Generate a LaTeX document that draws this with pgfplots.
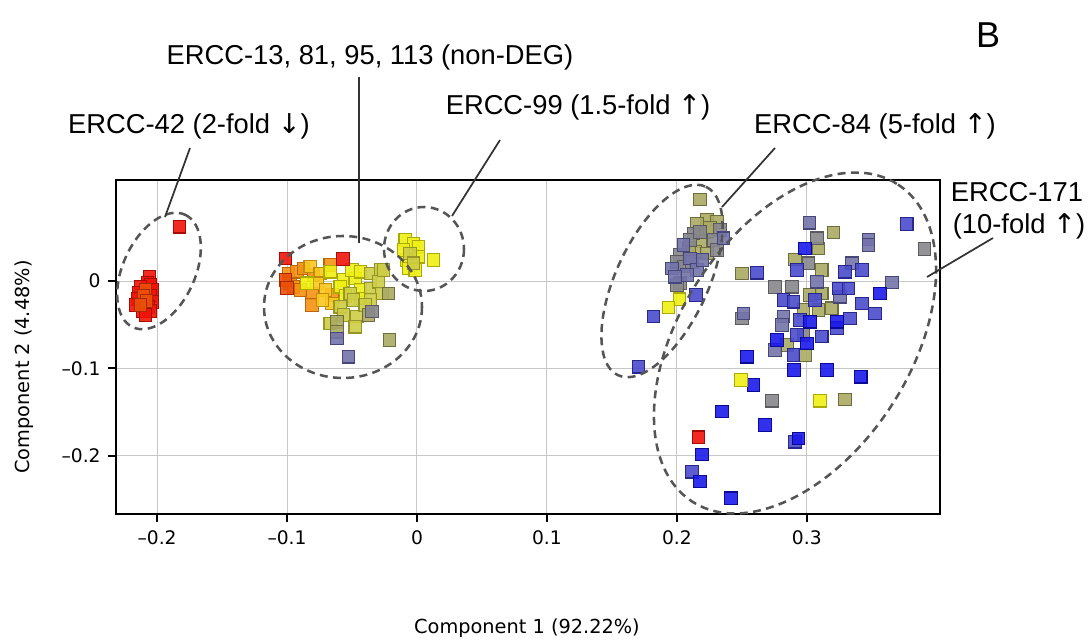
\documentclass[border=0pt]{standalone}
\usepackage{pgfplots}
\pgfplotsset{compat=1.18}
\usepackage{fontspec}
\setmainfont{DejaVu Sans}
\newfontfamily\annfont{Liberation Sans}
\newfontfamily\arrfont{DejaVu Sans}

\definecolor{cR}{RGB}{240,20,10}   \definecolor{bR}{RGB}{170,10,0}
\definecolor{cOR}{RGB}{235,80,10}  \definecolor{bOR}{RGB}{170,40,0}
\definecolor{cO}{RGB}{245,145,20}  \definecolor{bO}{RGB}{190,100,10}
\definecolor{cLO}{RGB}{250,200,30} \definecolor{bLO}{RGB}{190,140,10}
\definecolor{cY}{RGB}{240,240,20}  \definecolor{bY}{RGB}{170,170,0}
\definecolor{cYO}{RGB}{205,205,70} \definecolor{bYO}{RGB}{150,150,40}
\definecolor{cOL}{RGB}{170,170,100}\definecolor{bOL}{RGB}{110,110,60}
\definecolor{cG}{RGB}{135,135,140} \definecolor{bG}{RGB}{90,90,95}
\definecolor{cS}{RGB}{115,115,170} \definecolor{bS}{RGB}{70,70,120}
\definecolor{cBS}{RGB}{75,75,205}  \definecolor{bBS}{RGB}{40,40,140}
\definecolor{cB}{RGB}{25,25,235}   \definecolor{bB}{RGB}{10,10,150}
\definecolor{ell}{RGB}{85,85,85}

\pgfplotsset{sq/.style={only marks, mark=square*, mark size=4.7pt,
  mark options={draw=b#1, fill=c#1, line width=0.8pt, fill opacity=0.9}}}

\begin{document}
\begin{tikzpicture}
\path[use as bounding box] (0,0) rectangle (817.5pt,480pt);
\begin{axis}[
  at={(87pt,94.5pt)}, anchor=south west,
  scale only axis, width=618pt, height=250.5pt,
  xmin=-0.2316, xmax=0.4025, ymin=-0.2666, ymax=0.1156,
  xtick={-0.2,-0.1,0,0.1,0.2,0.3}, ytick={-0.2,-0.1,0},
  xticklabels={–0.2,–0.1,0,0.1,0.2,0.3}, yticklabels={–0.2,–0.1,0},
  tick align=outside, major tick length=6pt,
  tick style={black, line width=1.5pt},
  xtick pos=bottom, ytick pos=left,
  grid=major, major grid style={color=black!22, line width=0.7pt},
  axis line style={line width=2pt},
  tick label style={font=\fontsize{14}{16}\selectfont},
  xticklabel style={yshift=-3pt},
  yticklabel style={xshift=-2pt},
  clip=false,
]
% ERCC-42 cluster
\addplot[sq=R] table {
-0.1828 0.0621
-0.2059 0.0046
-0.2075 -0.0023
-0.2052 -0.0046
-0.2128 -0.0069
-0.2036 -0.0103
-0.2144 -0.0137
-0.2052 -0.0172
-0.2151 -0.0206
-0.2036 -0.0240
-0.2167 -0.0275
-0.2067 -0.0297
-0.2113 -0.0343
-0.2052 -0.0343
-0.2090 -0.0389
};
\addplot[sq=OR] table {
-0.2090 -0.0103
-0.2105 -0.0172
-0.2082 -0.0229
-0.2128 -0.0275
};
% non-DEG cluster
\addplot[sq=O] table {
-0.0988 0.0088
-0.0975 -0.0026
-0.0923 0.0106
-0.0949 -0.0065
-0.0872 0.0145
-0.0795 0.0069
-0.0808 -0.0141
-0.0808 -0.0275
-0.0667 0.0183
-0.0654 -0.0160
-0.0897 -0.0103
};
\addplot[sq=OR] table {
-0.1013 0.0011
-0.1000 -0.0080
};
\addplot[sq=LO] table {
-0.0821 0.0164
-0.0654 -0.0255
-0.0744 0.0088
-0.0769 -0.0026
-0.0705 -0.0103
-0.0728 -0.0217
};
\addplot[sq=Y] table {
-0.0846 -0.0026
-0.0667 0.0106
-0.0565 0.0011
-0.0475 0.0031
-0.0500 0.0126
-0.0436 0.0106
-0.0590 -0.0065
-0.0436 -0.0103
-0.0436 -0.0198
-0.0551 -0.0172
};
\addplot[sq=YO] table {
-0.0359 0.0088
-0.0282 0.0126
-0.0513 -0.0141
-0.0359 -0.0084
-0.0295 -0.0008
-0.0269 -0.0141
-0.0590 -0.0294
-0.0488 -0.0217
-0.0359 -0.0217
-0.0462 -0.0408
-0.0565 -0.0389
-0.0667 -0.0484
-0.0475 -0.0523
-0.0398 -0.0275
-0.0256 0.0126
};
\addplot[sq=OL] table {
-0.0615 -0.0466
-0.0218 -0.0141
-0.0372 -0.0389
-0.0615 -0.0580
-0.0211 -0.0675
};
\addplot[sq=G] table {
-0.0346 -0.0351
};
\addplot[sq=S] table {
-0.0615 -0.0656
-0.0526 -0.0866
};
\addplot[sq=R] table {
-0.1013 0.0260
-0.0569 0.0252
};
% ERCC-99 cluster
\addplot[sq=Y] table {
-0.0090 0.0469
-0.0026 0.0431
0.0012 0.0392
-0.0077 0.0240
0.0012 0.0278
-0.0065 0.0145
0.0128 0.0240
-0.0103 0.0355
-0.0013 0.0126
};
\addplot[sq=YO] table {
-0.0052 0.0317
-0.0026 0.0203
};
% ERCC-84 cluster
\addplot[sq=OL] table {
0.2179 0.0935
0.2231 0.0698
0.2308 0.0678
0.2154 0.0660
0.2231 0.0564
0.2179 0.0450
0.2141 0.0335
0.2231 0.0317
0.2256 0.0606
0.2094 0.0378
};
\addplot[sq=G] table {
0.2333 0.0584
0.2128 0.0546
0.2102 0.0469
0.2282 0.0469
0.2308 0.0355
0.2025 0.0297
0.2000 0.0221
0.2051 0.0164
0.2025 -0.0026
0.2000 -0.0046
0.2179 0.0561
0.2117 0.0217
};
\addplot[sq=S] table {
0.2358 0.0489
0.2051 0.0412
0.2102 0.0260
0.1962 0.0145
0.2154 0.0126
0.2077 0.0069
0.1987 0.0049
0.2198 0.0240
};
\addplot[sq=BS] table {
0.2148 -0.0160
0.1820 -0.0408
0.1705 -0.0981
};
\addplot[sq=Y] table {
0.2020 -0.0209
0.1935 -0.0301
};
% ERCC-171 cluster
\addplot[sq=OL] table {
0.2500 0.0088
0.3205 0.0553
0.3089 0.0374
0.2910 0.0248
0.3115 0.0126
0.3025 -0.0160
0.3115 -0.0141
0.2974 -0.0332
0.3089 -0.0332
0.3192 -0.0312
0.2846 -0.0732
0.2987 -0.0847
0.3295 -0.1354
};
\addplot[sq=G] table {
0.2756 -0.0069
0.2500 -0.0427
0.3077 0.0489
0.3012 0.0203
0.2885 -0.0065
0.2974 -0.0618
0.2731 -0.1370
0.3905 0.0366
};
\addplot[sq=S] table {
0.2512 -0.0370
0.3020 0.0667
0.3474 0.0477
0.3474 0.0412
0.3346 0.0203
0.3654 -0.0019
0.3077 -0.0008
0.3256 -0.0180
0.2820 -0.0408
0.2808 -0.0503
0.2756 -0.0789
};
\addplot[sq=BS] table {
0.2615 0.0095
0.3769 0.0652
0.2923 0.0126
0.3423 0.0126
0.3295 0.0106
0.3243 -0.0084
0.3320 -0.0084
0.2820 -0.0217
0.2897 -0.0237
0.3423 -0.0255
0.3525 -0.0370
0.3333 -0.0427
0.3231 -0.0541
0.2923 -0.0618
0.3115 -0.0637
0.2897 -0.0847
0.2910 -0.1839
0.2115 -0.2182
0.3064 -0.0217
0.2948 -0.0446
};
\addplot[sq=B] table {
0.2538 -0.0866
0.2589 -0.1190
0.2987 0.0374
0.3564 -0.0141
0.3025 -0.0466
0.3231 -0.0466
0.2769 -0.0675
0.3000 -0.0713
0.2902 -0.1018
0.3154 -0.1018
0.3415 -0.1095
0.2346 -0.1495
0.2679 -0.1648
0.2935 -0.1800
0.2192 -0.1983
0.2179 -0.2296
0.2415 -0.2486
};
\addplot[sq=Y] table {
0.2492 -0.1133
0.3102 -0.1370
};
\addplot[sq=R] table {
0.2166 -0.1788
};
\end{axis}
% annotations in pixel coordinates (origin top-left)
\begin{scope}[shift={(0,480pt)}, x=1pt, y=1pt, xscale=0.75, yscale=-0.75]
\begin{scope}[ell, line width=1.9, dash pattern=on 6 off 4]
\draw[rotate around={-65:(159,271)}] (159,271) ellipse [x radius=62, y radius=36];
\draw (343,307) ellipse [x radius=79, y radius=71];
\draw (424,249) ellipse [x radius=40, y radius=42];
\draw[rotate around={-65:(662,281)}] (662,281) ellipse [x radius=104, y radius=46];
\draw[rotate around={-57:(795,343)}] (795,343) ellipse [x radius=189, y radius=115];
\end{scope}
\begin{scope}[black!80, line width=1.3]
\draw (190,148) -- (165,217);
\draw (359,77) -- (359,243);
\draw (500,140) -- (452,216);
\draw (775,148) -- (722,207);
\draw (993,238) -- (927,277);
\end{scope}
\begin{scope}[every node/.style={inner sep=0pt, font=\annfont\fontsize{20.5}{24}\selectfont}]
\node at (370,57) {ERCC-13, 81, 95, 113 (non-DEG)};
\node at (189,126) {ERCC-42 (2-fold {\arrfont↓})};
\node at (578,107) {ERCC-99 (1.5-fold {\arrfont↑})};
\node at (875,126) {ERCC-84 (5-fold {\arrfont↑})};
\node at (1017,192) {ERCC-171};
\node at (1019,226) {(10-fold {\arrfont↑})};
\node[font=\annfont\fontsize{27}{30}\selectfont] at (988,35) {B};
\node[font=\fontsize{14.5}{16}\selectfont] at (527,628) {Component 1 (92.22\%)};
\node[font=\fontsize{14.5}{16}\selectfont, rotate=90] at (24,367) {Component 2 (4.48\%)};
\end{scope}
\end{scope}
\end{tikzpicture}
\end{document}
